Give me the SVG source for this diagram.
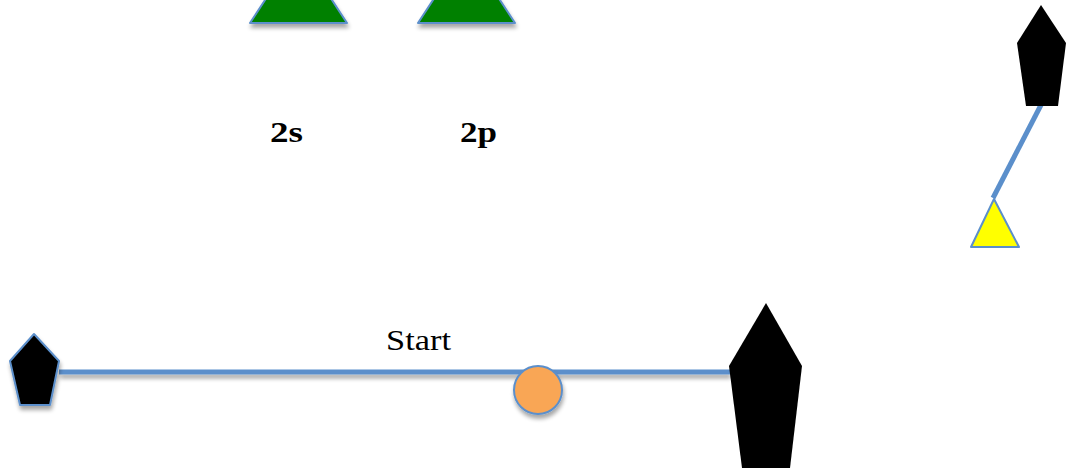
<svg xmlns="http://www.w3.org/2000/svg" width="1075" height="470" viewBox="0 0 1075 470">
<defs>
<style>
.line{stroke:#5b8fcb;stroke-width:5;fill:none}
.mark{fill:#000}
.outl{stroke:#5b8fcb;stroke-width:2;stroke-linejoin:round}
.lbl{font-family:"Liberation Serif",serif;fill:#000}
.b{font-weight:bold;font-size:29px}
</style>
<filter id="sh" x="-20%" y="-20%" width="150%" height="150%">
<feGaussianBlur in="SourceAlpha" stdDeviation="2"/>
<feOffset dx="1" dy="4"/>
<feComponentTransfer><feFuncA type="linear" slope="0.35"/></feComponentTransfer>
<feMerge><feMergeNode/><feMergeNode in="SourceGraphic"/></feMerge>
</filter>
<filter id="shl" filterUnits="userSpaceOnUse" x="0" y="350" width="800" height="50">
<feGaussianBlur in="SourceAlpha" stdDeviation="2"/>
<feOffset dx="1" dy="4"/>
<feComponentTransfer><feFuncA type="linear" slope="0.35"/></feComponentTransfer>
<feMerge><feMergeNode/><feMergeNode in="SourceGraphic"/></feMerge>
</filter>
</defs>
<g id="connectors">
<line class="line" x1="59" y1="372" x2="730" y2="372" filter="url(#shl)"/>
<line class="line" x1="1042" y1="103" x2="993" y2="198"/>
</g>
<g id="tri-2s"><polygon points="298.5,-51 347,23 250,23" fill="#008000" class="outl" filter="url(#sh)"/></g>
<g id="tri-2p"><polygon points="466.5,-51 515,23 418,23" fill="#008000" class="outl" filter="url(#sh)"/></g>
<g id="label-2s"><text class="lbl b" x="270" y="142" textLength="33" lengthAdjust="spacingAndGlyphs">2s</text></g>
<g id="label-2p"><text class="lbl b" x="460" y="142" textLength="37" lengthAdjust="spacingAndGlyphs">2p</text></g>
<g id="mark-top-right"><polygon class="mark" points="1041,5 1066,43 1058,106 1026,106 1017,43"/></g>
<g id="yellow-tri"><polygon points="994,199 1019,247 971,247" fill="#ffff00" class="outl"/></g>
<g id="pin-left"><polygon class="mark outl" points="34,334 59,361 50,405 20,405 10,361" filter="url(#sh)"/></g>
<g id="pin-right"><polygon class="mark" points="766,303 802,366 790,468 742,468 729,366"/></g>
<g id="ball"><circle cx="538" cy="390" r="24" fill="#f9a655" class="outl" filter="url(#sh)"/></g>
<g id="label-start"><text class="lbl" x="386" y="350" font-size="30" textLength="65" lengthAdjust="spacingAndGlyphs">Start</text></g>
</svg>
